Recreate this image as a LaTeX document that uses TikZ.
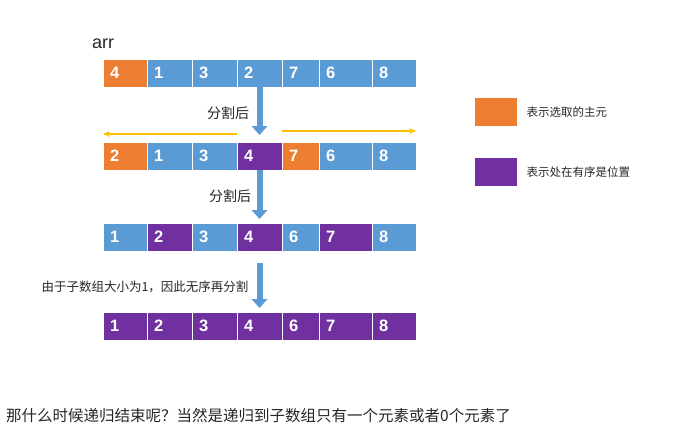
\documentclass[tikz,border=0pt]{standalone}
\usepackage{fontspec}
\setmainfont{Liberation Sans}
\newfontfamily\cjk{Noto Sans CJK SC}
\usetikzlibrary{arrows.meta,positioning}

\definecolor{pivot}{HTML}{ED7D31}
\definecolor{plain}{HTML}{5B9BD5}
\definecolor{fixed}{HTML}{7030A0}
\definecolor{split}{HTML}{FFC000}

\tikzset{
  cell/.style={draw=white, line width=1pt, outer sep=0pt, anchor=north west,
    minimum height=28pt, inner xsep=7pt, inner ysep=0pt, align=left,
    text=white, font=\bfseries\fontsize{16.5}{16.5}\selectfont},
  w44/.style={text width=30pt},
  w45/.style={text width=31pt},
  w37/.style={text width=23pt},
  w53/.style={text width=39pt},
  drop/.style={draw=plain, line width=6pt,
    -{Triangle[width=16pt,length=9pt,line width=0pt]}},
  spread/.style={draw=split, line width=1.6pt,
    -{Stealth[length=7pt,width=6pt]}},
  note/.style={font=\cjk\fontsize{14}{14}\selectfont, text=black!85},
  keybox/.style={anchor=north west, minimum width=42pt, minimum height=28pt,
    inner sep=0pt, outer sep=0pt},
  keytext/.style={font=\cjk\fontsize{11.5}{12}\selectfont, text=black!85},
}

\begin{document}
\begin{tikzpicture}[x=1pt,y=-1pt]
\useasboundingbox (0,0) rectangle (678,439);

\node[font=\fontsize{18}{18}\selectfont, text=black!85] (arr) at (103,44) {arr};

% row 1
\node[cell,fill=pivot,w44] (a1) at (103,59) {4};
\node[cell,fill=plain,w45,right=0pt of a1] (a2) {1};
\node[cell,fill=plain,w45,right=0pt of a2] (a3) {3};
\node[cell,fill=plain,w45,right=0pt of a3] (a4) {2};
\node[cell,fill=plain,w37,right=0pt of a4] (a5) {7};
\node[cell,fill=plain,w53,right=0pt of a5] (a6) {6};
\node[cell,fill=plain,w44,right=0pt of a6] (a7) {8};

% row 2
\node[cell,fill=pivot,w44] (b1) at (103,142) {2};
\node[cell,fill=plain,w45,right=0pt of b1] (b2) {1};
\node[cell,fill=plain,w45,right=0pt of b2] (b3) {3};
\node[cell,fill=fixed,w45,right=0pt of b3] (b4) {4};
\node[cell,fill=pivot,w37,right=0pt of b4] (b5) {7};
\node[cell,fill=plain,w53,right=0pt of b5] (b6) {6};
\node[cell,fill=plain,w44,right=0pt of b6] (b7) {8};

% row 3
\node[cell,fill=plain,w44] (c1) at (103,223) {1};
\node[cell,fill=fixed,w45,right=0pt of c1] (c2) {2};
\node[cell,fill=plain,w45,right=0pt of c2] (c3) {3};
\node[cell,fill=fixed,w45,right=0pt of c3] (c4) {4};
\node[cell,fill=plain,w37,right=0pt of c4] (c5) {6};
\node[cell,fill=fixed,w53,right=0pt of c5] (c6) {7};
\node[cell,fill=plain,w44,right=0pt of c6] (c7) {8};

% row 4
\node[cell,fill=fixed,w44] (d1) at (103,312) {1};
\node[cell,fill=fixed,w45,right=0pt of d1] (d2) {2};
\node[cell,fill=fixed,w45,right=0pt of d2] (d3) {3};
\node[cell,fill=fixed,w45,right=0pt of d3] (d4) {4};
\node[cell,fill=fixed,w37,right=0pt of d4] (d5) {6};
\node[cell,fill=fixed,w53,right=0pt of d5] (d6) {7};
\node[cell,fill=fixed,w44,right=0pt of d6] (d7) {8};

% steps
\draw[drop, shorten >=7pt] (a4) -- (b4);
\draw[drop, shorten >=4pt] (b4) -- (c4);
\draw[drop, shorten <=12pt, shorten >=4pt] (c4) -- (d4);
\node[note] (cut1) at (228,113) {分割后};
\node[note] (cut2) at (230,196) {分割后};
\node[font=\cjk\fontsize{12.5}{13}\selectfont, text=black!85] (cut3) at (145,287)
  {由于子数组大小为1，因此无序再分割};

% partition
\draw[spread] ([yshift=8pt]b4.north west) -- ([yshift=8pt]b1.north west);
\draw[spread] ([yshift=11pt]b5.north west) -- ([yshift=11pt]b7.north east);

% legend
\node[keybox,fill=pivot] (kpivot) at (475,98) {};
\node[keytext,right=6pt of kpivot] (tpivot) {表示选取的主元};
\node[keybox,fill=fixed] (kfixed) at (475,158) {};
\node[keytext,right=6pt of kfixed] (tfixed) {表示处在有序是位置};

\node[anchor=west, inner sep=0pt, font=\cjk\fontsize{15.5}{16}\selectfont, text=black!85] (tail) at (6,416)
  {那什么时候递归结束呢？当然是递归到子数组只有一个元素或者0个元素了};
\end{tikzpicture}
\end{document}
